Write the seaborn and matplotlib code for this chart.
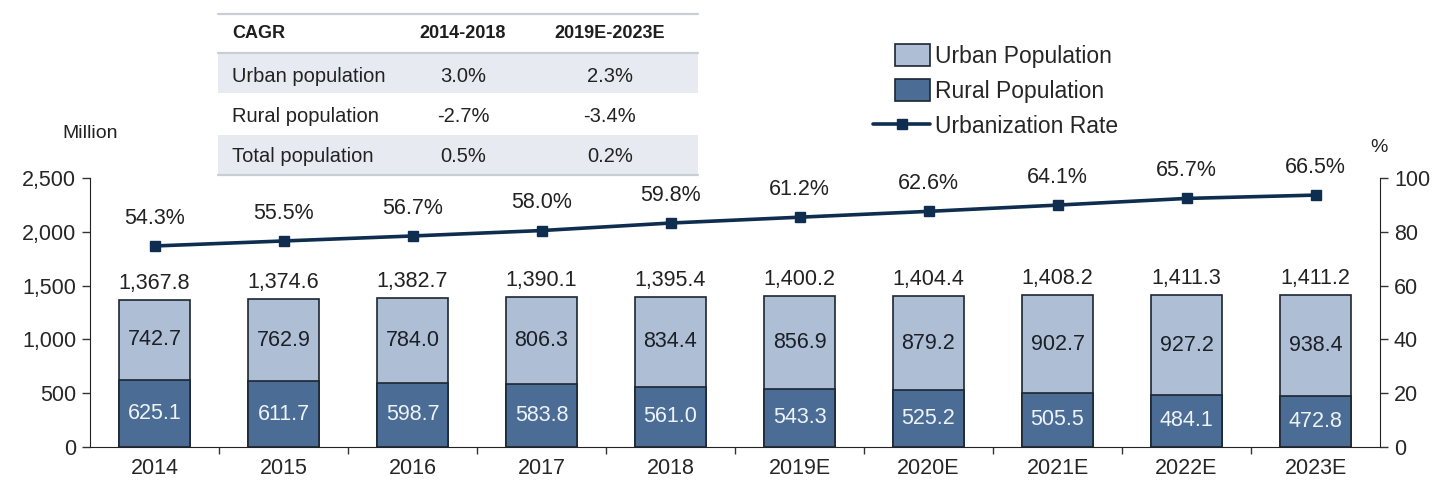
import numpy as np
import pandas as pd
import matplotlib
matplotlib.use("Agg")
import matplotlib.pyplot as plt
import seaborn as sns
from matplotlib.patches import Patch, Rectangle
from matplotlib.lines import Line2D
from matplotlib.legend_handler import HandlerPatch

# dados do gráfico
years = ["2014", "2015", "2016", "2017", "2018", "2019E", "2020E", "2021E", "2022E", "2023E"]
urban = [742.7, 762.9, 784.0, 806.3, 834.4, 856.9, 879.2, 902.7, 927.2, 938.4]
rural = [625.1, 611.7, 598.7, 583.8, 561.0, 543.3, 525.2, 505.5, 484.1, 472.8]
total = [1367.8, 1374.6, 1382.7, 1390.1, 1395.4, 1400.2, 1404.4, 1408.2, 1411.3, 1411.2]
rate = [54.3, 55.5, 56.7, 58.0, 59.8, 61.2, 62.6, 64.1, 65.7, 66.5]

# tabela CAGR
cagr_header = ["CAGR", "2014-2018", "2019E-2023E"]
cagr_rows = ["Urban population", "Rural population", "Total population"]
cagr_1418 = ["3.0%", "-2.7%", "0.5%"]
cagr_1923 = ["2.3%", "-3.4%", "0.2%"]

df = pd.DataFrame({"year": years, "urban": urban, "rural": rural, "total": total, "rate": rate})

sns.set_style("ticks")
plt.rcParams["font.family"] = ["Liberation Sans", "DejaVu Sans"]

c_urban = "#aebfd5"
c_rural = "#4b6d95"
c_line = "#0e2d4f"
c_edge = "#1c2633"

W, H = 1441, 487
fig = plt.figure(figsize=(W / 100, H / 100), dpi=100)
ax = fig.add_axes([90 / W, 1 - 447 / H, (1380 - 90) / W, (447 - 178) / H])

sns.barplot(data=df, x="year", y="total", color=c_urban, width=0.55, edgecolor=c_edge,
            linewidth=1.2, saturation=1, ax=ax)
sns.barplot(data=df, x="year", y="rural", color=c_rural, width=0.55, edgecolor=c_edge,
            linewidth=1.2, saturation=1, ax=ax)

ax.set_xlim(-0.5, len(years) - 0.5)
ax.set_ylim(0, 2500)
ax.set_yticks(range(0, 2501, 500))
ax.yaxis.set_major_formatter(matplotlib.ticker.StrMethodFormatter("{x:,.0f}"))
ax.set_xlabel("")
ax.set_ylabel("")
ax.tick_params(axis="y", labelsize=15.5, length=6, width=1, color="#333333", pad=4)
ax.tick_params(axis="x", which="major", labelsize=15.5, length=0, pad=8)
ax.set_xticks(np.arange(len(years) - 1) + 0.5, minor=True)
ax.tick_params(axis="x", which="minor", length=5, width=1, color="#333333")
for s in ["left", "bottom"]:
    ax.spines[s].set_color("#222222")
ax.spines["top"].set_visible(False)
ax.spines["right"].set_visible(False)

pos = np.arange(len(years))
for i in pos:
    ax.text(i, rural[i] / 2, f"{rural[i]:.1f}", ha="center", va="center", fontsize=15.5, color="#eef3f8")
    ax.text(i, rural[i] + urban[i] / 2, f"{urban[i]:.1f}", ha="center", va="center", fontsize=15.5, color="#1b1f26")
    ax.annotate(f"{total[i]:,.1f}", (i, total[i]), xytext=(0, 12), textcoords="offset points",
                ha="center", va="center", fontsize=15.5, color="#222222")

# eixo da direita (%)
ax2 = ax.twinx()
ax2.set_ylim(0, 100)
ax2.set_yticks(range(0, 101, 20))
ax2.tick_params(axis="y", labelsize=15.5, length=6, width=1, color="#333333", pad=4)
ax2.grid(False)
for s in ["top", "left", "bottom"]:
    ax2.spines[s].set_visible(False)
ax2.spines["right"].set_color("#222222")

# eixo escondido para a linha da taxa de urbanização
ax3 = ax.twinx()
ax3.set_ylim(6.1, 70.6)
ax3.axis("off")
ax3.plot(pos, rate, color=c_line, lw=2.6, marker="s", ms=7.5, mfc=c_line, mec=c_line)
for i in pos:
    ax3.annotate(f"{rate[i]:.1f}%", (i, rate[i]), xytext=(0, 20), textcoords="offset points",
                 ha="center", va="center", fontsize=15.5, color="#222222")

fig.text(90 / W, 1 - 133 / H, "Million", ha="center", va="center", fontsize=14, color="#222222")
fig.text(1379 / W, 1 - 147 / H, "%", ha="center", va="center", fontsize=14, color="#222222")

# tabela CAGR desenhada à mão
tx0, tx1 = 218, 698
def fy(y):
    return 1 - y / H
for y0, y1 in [(54, 93), (135, 175)]:
    fig.patches.append(Rectangle((tx0 / W, fy(y1)), (tx1 - tx0) / W, (y1 - y0) / H,
                                 transform=fig.transFigure, facecolor="#e7ebf1", edgecolor="none"))
for y, c in [(14, "#c9ced6"), (53, "#c9ced6"), (175, "#c9ced6")]:
    fig.add_artist(Line2D([tx0 / W, tx1 / W], [fy(y), fy(y)], color=c, lw=1.6, transform=fig.transFigure))

col_x = [232, 463, 610]
fig.text(col_x[0] / W, fy(34), cagr_header[0], ha="left", va="center", fontsize=13, fontweight="bold", color="#1e1e1e")
fig.text(col_x[1] / W, fy(34), cagr_header[1], ha="center", va="center", fontsize=13, fontweight="bold", color="#1e1e1e")
fig.text(col_x[2] / W, fy(34), cagr_header[2], ha="center", va="center", fontsize=13, fontweight="bold", color="#1e1e1e")
row_y = [76, 116, 156]
for k in range(len(cagr_rows)):
    fig.text(col_x[0] / W, fy(row_y[k]), cagr_rows[k], ha="left", va="center", fontsize=14.5, color="#222222")
    fig.text(col_x[1] / W, fy(row_y[k]), cagr_1418[k], ha="center", va="center", fontsize=14.5, color="#222222")
    fig.text(col_x[2] / W, fy(row_y[k]), cagr_1923[k], ha="center", va="center", fontsize=14.5, color="#222222")

# legenda
def narrow_patch(legend, orig_handle, xdescent, ydescent, width, height, fontsize):
    w = width * 0.62
    return Rectangle((width - w - xdescent, -ydescent), w, height)

handles = [
    Patch(facecolor=c_urban, edgecolor=c_edge, linewidth=1.2, label="Urban Population"),
    Patch(facecolor=c_rural, edgecolor=c_edge, linewidth=1.2, label="Rural Population"),
    Line2D([], [], color=c_line, lw=2.6, marker="s", ms=7.5, label="Urbanization Rate"),
]
fig.legend(handles=handles, loc="upper left", bbox_to_anchor=(873 / W, fy(44)), frameon=False,
           fontsize=16.5, handlelength=2.5, handleheight=1.1, handletextpad=0.2,
           labelspacing=0.5, borderpad=0, borderaxespad=0,
           handler_map={Patch: HandlerPatch(patch_func=narrow_patch)})

fig.savefig("out.png", dpi=100)
